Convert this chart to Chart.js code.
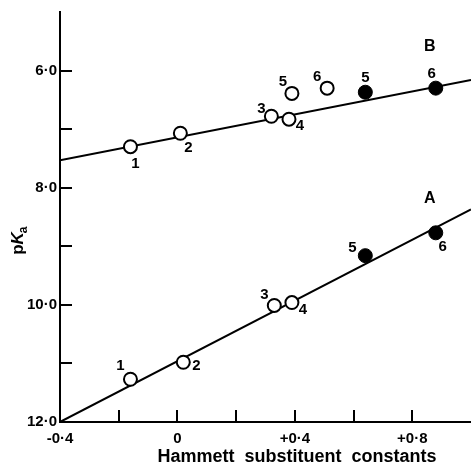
<!DOCTYPE html>
<html>
<head>
<meta charset="utf-8">
<script src="https://cdn.jsdelivr.net/npm/chart.js@4/dist/chart.umd.min.js"></script>
<style>
  html, body { margin: 0; padding: 0; background: #fff; }
  canvas { display: block; }
</style>
</head>
<body>
<canvas id="chart" width="471" height="465"></canvas>
<script>
// --- Dados ---
// Série B (curva superior)
const bOpenX = [-0.16, 0.01, 0.32, 0.38, 0.39, 0.51];
const bOpenY = [7.30, 7.07, 6.78, 6.83, 6.39, 6.30];
const bOpenLabels = ['1', '2', '3', '4', '5', '6'];
const bFilledX = [0.64, 0.88];
const bFilledY = [6.37, 6.30];
const bFilledLabels = ['5', '6'];
const lineBX = [-0.4, 1.0];
const lineBY = [7.53, 6.16];

// Série A (curva inferior)
const aOpenX = [-0.16, 0.02, 0.33, 0.39];
const aOpenY = [11.27, 10.98, 10.01, 9.96];
const aOpenLabels = ['1', '2', '3', '4'];
const aFilledX = [0.64, 0.88];
const aFilledY = [9.16, 8.77];
const aFilledLabels = ['5', '6'];
const lineAX = [-0.4, 1.0];
const lineAY = [12.0, 8.37];

// Letras das séries (posição em unidades dos eixos)
const seriesNames = ['A', 'B'];
const seriesNameX = [0.86, 0.86];
const seriesNameY = [8.18, 5.59];

// Eixos
const xMin = -0.4, xMax = 1.0, xStep = 0.2;
const yMin = 5, yMax = 12, yStep = 1;
const xLabelValues = [-0.4, 0, 0.4, 0.8];
const yLabelValues = [6, 8, 10, 12];

// Deslocamento (px) dos números junto a cada ponto
const bOpenOffsets = [[5, 17], [8, 15], [-10, -7], [11, 7], [-9, -12], [-10, -11]];
const bFilledOffsets = [[0, -14], [-4, -14]];
const aOpenOffsets = [[-10, -13], [13, 4], [-10, -11], [11, 7]];
const aFilledOffsets = [[-13, -8], [7, 14]];

const FONT = "'Liberation Sans', Arial, sans-serif";

function toPoints(xs, ys) {
  return xs.map((x, i) => ({ x: x, y: ys[i] }));
}

function fmt(v) {
  const r = Math.round(v * 10) / 10;
  if (r === 0) return '0';
  return r.toFixed(1).replace('.', '\u00b7');
}

function fmtX(v) {
  const r = Math.round(v * 10) / 10;
  if (r === 0) return '0';
  return (r > 0 ? '+' : '-') + Math.abs(r).toFixed(1).replace('.', '\u00b7');
}

function isIn(v, list) {
  return list.some(l => Math.abs(l - v) < 1e-6);
}

const openStyle = {
  pointRadius: 6.5,
  pointBorderWidth: 2,
  pointBorderColor: '#000',
  pointBackgroundColor: '#fff',
  showLine: false,
  order: 0
};
const filledStyle = {
  pointRadius: 7,
  pointBorderWidth: 1,
  pointBorderColor: '#000',
  pointBackgroundColor: '#000',
  showLine: false,
  order: 0
};
const lineStyle = {
  showLine: true,
  pointRadius: 0,
  borderColor: '#000',
  borderWidth: 2,
  fill: false,
  order: 5
};

// --- Plugin: marcas internas dos eixos, números e títulos ---
const annotations = {
  id: 'annotations',
  afterDatasetsDraw(chart) {
    const ctx = chart.ctx;
    const xs = chart.scales.x, ys = chart.scales.y;
    const area = chart.chartArea;

    ctx.save();
    ctx.strokeStyle = '#000';
    ctx.lineWidth = 2;
    // marcas do eixo x (para dentro)
    xs.ticks.forEach(t => {
      if (Math.abs(t.value - xMin) < 1e-6 || Math.abs(t.value - xMax) < 1e-6) return;
      const px = Math.round(xs.getPixelForValue(t.value));
      ctx.beginPath();
      ctx.moveTo(px, area.bottom);
      ctx.lineTo(px, area.bottom - 12);
      ctx.stroke();
    });
    // marcas do eixo y (para dentro)
    ys.ticks.forEach(t => {
      if (Math.abs(t.value - yMin) < 1e-6 || Math.abs(t.value - yMax) < 1e-6) return;
      const py = Math.round(ys.getPixelForValue(t.value));
      ctx.beginPath();
      ctx.moveTo(area.left, py);
      ctx.lineTo(area.left + 12, py);
      ctx.stroke();
    });

    // números junto aos pontos
    ctx.fillStyle = '#000';
    ctx.font = 'bold 15px ' + FONT;
    ctx.textAlign = 'center';
    ctx.textBaseline = 'middle';
    chart.data.datasets.forEach((ds, i) => {
      if (!ds.numLabels) return;
      const meta = chart.getDatasetMeta(i);
      meta.data.forEach((pt, j) => {
        const off = ds.numOffsets[j];
        ctx.fillText(ds.numLabels[j], pt.x + off[0], pt.y + off[1]);
      });
    });

    // letras A e B
    ctx.font = 'bold 16px ' + FONT;
    seriesNames.forEach((n, i) => {
      ctx.fillText(n, xs.getPixelForValue(seriesNameX[i]), ys.getPixelForValue(seriesNameY[i]));
    });

    // título do eixo x
    ctx.font = 'bold 18px ' + FONT;
    ctx.textAlign = 'center';
    ctx.fillText('Hammett  substituent  constants', 297, 457);

    // título do eixo y: pKa
    ctx.translate(17, 240);
    ctx.rotate(-Math.PI / 2);
    ctx.textAlign = 'left';
    ctx.textBaseline = 'alphabetic';
    ctx.font = 'bold 17px ' + FONT;
    const wp = ctx.measureText('p').width;
    ctx.font = 'italic bold 17px ' + FONT;
    const wk = ctx.measureText('K').width;
    const total = wp + wk + 7;
    let cx = -total / 2;
    ctx.font = 'bold 17px ' + FONT;
    ctx.fillText('p', cx, 6);
    cx += wp;
    ctx.font = 'italic bold 17px ' + FONT;
    ctx.fillText('K', cx, 6);
    cx += wk - 1;
    ctx.font = 'bold 12px ' + FONT;
    ctx.fillText('a', cx, 10);
    ctx.restore();
  }
};

const data = {
  datasets: [
    Object.assign({ data: toPoints(bOpenX, bOpenY), numLabels: bOpenLabels, numOffsets: bOpenOffsets }, openStyle),
    Object.assign({ data: toPoints(bFilledX, bFilledY), numLabels: bFilledLabels, numOffsets: bFilledOffsets }, filledStyle),
    Object.assign({ data: toPoints(aOpenX, aOpenY), numLabels: aOpenLabels, numOffsets: aOpenOffsets }, openStyle),
    Object.assign({ data: toPoints(aFilledX, aFilledY), numLabels: aFilledLabels, numOffsets: aFilledOffsets }, filledStyle),
    Object.assign({ data: toPoints(lineBX, lineBY) }, lineStyle),
    Object.assign({ data: toPoints(lineAX, lineAY) }, lineStyle)
  ]
};

const config = {
  type: 'scatter',
  data: data,
  options: {
    responsive: false,
    animation: false,
    devicePixelRatio: 1,
    layout: { autoPadding: false, padding: { top: 12, right: 0, left: 0, bottom: 0 } },
    plugins: {
      legend: { display: false },
      tooltip: { enabled: false }
    },
    scales: {
      x: {
        type: 'linear',
        min: xMin,
        max: xMax,
        afterFit: s => { s.height = 43; s.paddingLeft = 0; s.paddingRight = 0; },
        grid: { drawOnChartArea: false, drawTicks: false },
        border: { display: true, color: '#000', width: 2 },
        ticks: {
          stepSize: xStep,
          padding: 8,
          color: '#000',
          maxRotation: 0,
          autoSkip: false,
          font: { family: FONT, size: 15, weight: 'bold' },
          callback: v => isIn(v, xLabelValues) ? fmtX(v) : ''
        }
      },
      y: {
        type: 'linear',
        reverse: true,
        min: yMin,
        max: yMax,
        afterFit: s => { s.width = 60; s.paddingTop = 0; s.paddingBottom = 0; },
        grid: { drawOnChartArea: false, drawTicks: false },
        border: { display: true, color: '#000', width: 2 },
        ticks: {
          stepSize: yStep,
          padding: 3,
          color: '#000',
          autoSkip: false,
          font: { family: FONT, size: 15, weight: 'bold' },
          callback: v => isIn(v, yLabelValues) ? fmt(v) : ''
        }
      }
    }
  },
  plugins: [annotations]
};

new Chart(document.getElementById('chart'), config);
</script>
</body>
</html>
